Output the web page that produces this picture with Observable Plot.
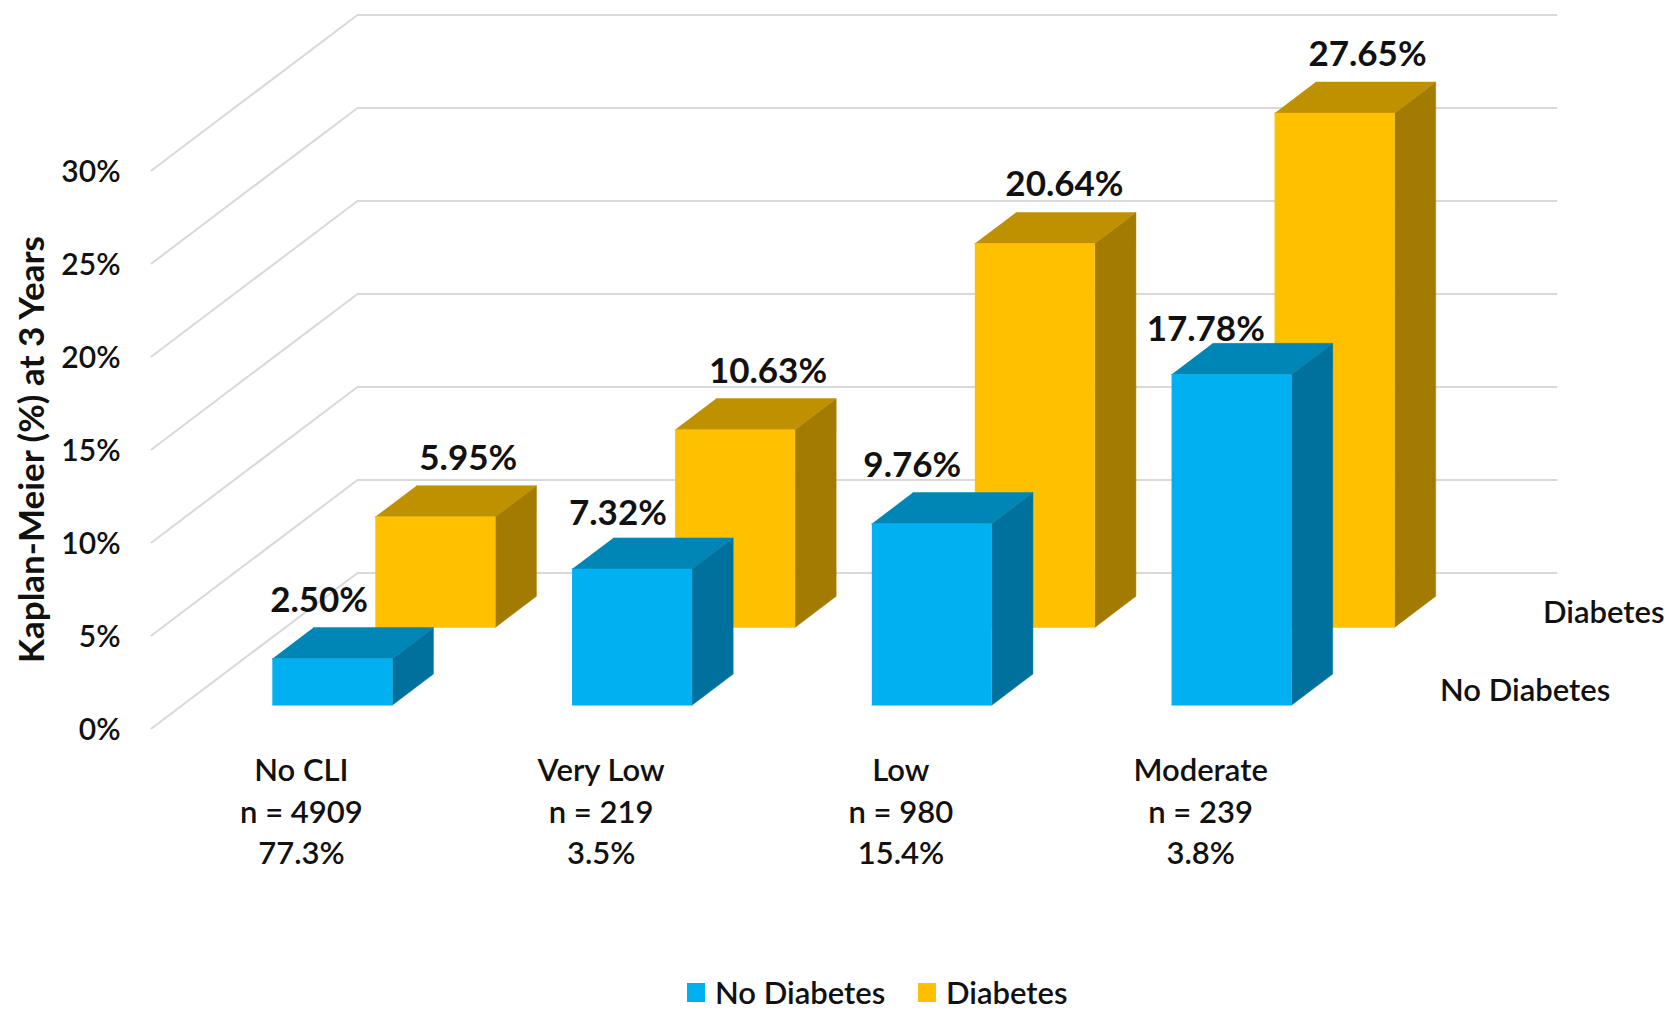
<!DOCTYPE html>
<html>
<head>
<meta charset="utf-8">
<script src="https://cdn.jsdelivr.net/npm/d3@7"></script>
<script src="https://cdn.jsdelivr.net/npm/@observablehq/plot@0.6"></script>
<style>
  html, body { margin: 0; padding: 0; background: #fff; overflow: hidden; }
  #chart svg { display: block; }
  #legend { position: relative; height: 36px; font: 600 31px Lato, sans-serif; color: #111; }
  #legend span { position: absolute; top: -1px; line-height: 36px; white-space: nowrap; }
  #legend i { position: absolute; top: 8px; width: 18px; height: 19px; }
</style>
</head>
<body>
<div id="chart"></div>
<div id="legend"></div>
<script>
// Kaplan-Meier event rates at 3 years by CLI severity and diabetes status
const categories = ["No CLI", "Very Low", "Low", "Moderate"];
const counts = [4909, 219, 980, 239];
const shares = ["77.3%", "3.5%", "15.4%", "3.8%"];
const noDiabetes = [2.50, 7.32, 9.76, 17.78];
const diabetes = [5.95, 10.63, 20.64, 27.65];
const yTicks = [0, 5, 10, 15, 20, 25, 30];
const seriesNames = ["No Diabetes", "Diabetes"];

// Face colours per series: front, top, side
const palette = [
  {front: "#00B0F0", top: "#0086B6", side: "#00719C"},
  {front: "#FFC000", top: "#BF9000", side: "#A37B00"}
];

// Oblique projection: a depth step of 1 moves a point right and up in data units
const depthX = 0.3436;
const depthY = 4.18;
const projX = (u, v) => u + v * depthX;
const projY = (w, v) => w + v * depthY;

// Each bar occupies the middle 40% of its category cell and its depth row
const inset = 0.3;
const extent = 0.4;

const rows = [noDiabetes, diabetes];
const faces = [];
// Painter's order: back row first, then left to right; side and top before front
[1, 0].forEach((r) => {
  rows[r].forEach((value, i) => {
    const u0 = i + inset, u1 = u0 + extent;
    const v0 = r + inset, v1 = v0 + extent;
    const push = (kind, pts) => pts.forEach(([u, v, w]) => faces.push({
      id: `${r}-${i}-${kind}`,
      fill: palette[r][kind],
      x: projX(u, v),
      y: projY(w, v)
    }));
    push("side", [[u1, v0, 0], [u1, v1, 0], [u1, v1, value], [u1, v0, value]]);
    push("top", [[u0, v0, value], [u1, v0, value], [u1, v1, value], [u0, v1, value]]);
    push("front", [[u0, v0, 0], [u1, v0, 0], [u1, v0, value], [u0, v0, value]]);
  });
});

// Floor and back-wall rules at every tick level
const grid = yTicks.flatMap((w) => [
  {w, x: projX(0, 0), y: projY(w, 0)},
  {w, x: projX(0, 2), y: projY(w, 2)},
  {w, x: projX(4, 2), y: projY(w, 2)}
]);

// Value labels sit above the back edge of each bar's top face, hand-placed per bar
const labelShift = [[-0.044, -0.047, -0.065, -0.086], [0.11, 0.11, 0.099, 0.11]];
const labelLift = [[16, 13, 16, 2], [16, 16, 16, 16]];
const valueLabels = rows.flatMap((vals, r) => vals.map((value, i) => ({
  text: value.toFixed(2) + "%",
  x: projX(i + 0.5 + labelShift[r][i], r + inset),
  y: projY(value, r + inset + extent) + labelLift[r][i] / 18.6
})));

const depthLabels = seriesNames.map((name, r) => ({
  name,
  x: projX(4, r + 0.5),
  y: projY(0, r + 0.5)
}));

const ink = "#111";
const font = "Lato, sans-serif";

const chart = Plot.plot({
  width: 1669,
  height: 975,
  marginLeft: 151,
  marginRight: 319,
  marginTop: 170,
  marginBottom: 247,
  style: {fontFamily: font, background: "#fff", overflow: "visible"},
  x: {domain: [0, 4], axis: null},
  y: {domain: [0, 30], axis: null},
  color: {type: "identity"},
  marks: [
    Plot.line(grid, {x: "x", y: "y", z: "w", stroke: "#D9D9D9", strokeWidth: 2}),
    Plot.line(faces, {x: "x", y: "y", z: "id", fill: "fill", stroke: "fill", strokeWidth: 0.5}),
    Plot.axisY({
      ticks: yTicks,
      tickFormat: (d) => d + "%",
      tickSize: 0,
      tickPadding: 31,
      fontSize: 30,
      fontWeight: 600,
      fill: ink,
      dy: 2,
      label: null
    }),
    Plot.text(["Kaplan-Meier (%) at 3 Years"], {
      frameAnchor: "left",
      textAnchor: "middle",
      dx: -119,
      rotate: -90,
      fontSize: 35,
      fontWeight: 700,
      fill: ink
    }),
    Plot.axisX({
      ticks: [0.5, 1.5, 2.5, 3.5],
      tickFormat: (d) => {
        const i = Math.floor(d);
        return `${categories[i]}\nn = ${counts[i]}\n${shares[i]}`;
      },
      tickSize: 0,
      tickPadding: 23,
      fontSize: 31,
      fontWeight: 600,
      fill: ink,
      lineHeight: 1.34,
      label: null
    }),
    Plot.text(valueLabels, {
      x: "x", y: "y", text: "text",
      lineAnchor: "bottom",
      fontSize: 35, fontWeight: 700, fill: ink
    }),
    Plot.text(depthLabels, {
      x: "x", y: "y", text: "name",
      dx: 38, dy: 1, textAnchor: "start",
      fontSize: 31, fontWeight: 600, fill: ink
    })
  ]
});
document.getElementById("chart").append(chart);

// Legend below the plot
const legend = document.getElementById("legend");
const swatchLeft = [687, 918];
seriesNames.forEach((name, r) => {
  const sw = document.createElement("i");
  sw.style.left = swatchLeft[r] + "px";
  sw.style.background = palette[r].front;
  const label = document.createElement("span");
  label.style.left = (swatchLeft[r] + 28) + "px";
  label.textContent = name;
  legend.append(sw, label);
});
</script>
</body>
</html>
